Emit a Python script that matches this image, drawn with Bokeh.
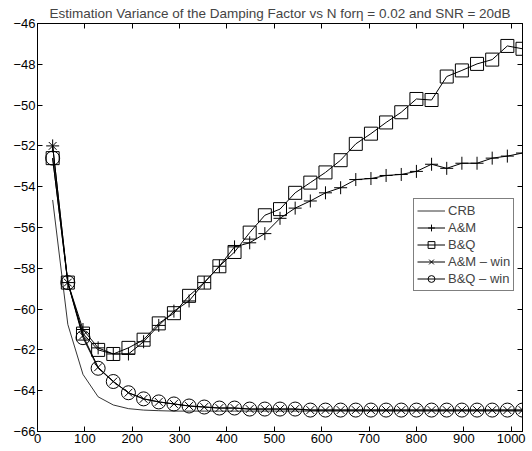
from bokeh.plotting import figure
from bokeh.models import LinearAxis, Range1d, FixedTicker, Legend, LegendItem, CustomJSTickFormatter
from bokeh.embed import file_html
from bokeh.resources import INLINE

N = list(range(32, 1025, 32))

crb = [-54.65, -60.75, -63.2, -64.3, -64.7, -64.88, -64.95, -64.98,
       -65.0, -65.0, -65.0, -65.0, -65.0, -65.0, -65.0, -65.0,
       -65.0, -65.0, -65.0, -65.0, -65.0, -65.0, -65.0, -65.0,
       -65.0, -65.0, -65.0, -65.0, -65.0, -65.0, -65.0, -65.0]

am = [-52.0, -58.7, -61.0, -61.9, -62.2, -62.2, -61.6, -60.8,
      -60.1, -59.6, -58.7, -57.9, -56.95, -56.75, -56.3, -55.55,
      -55.05, -54.7, -54.3, -54.05, -53.65, -53.6, -53.45, -53.4,
      -53.25, -52.9, -53.1, -52.85, -52.85, -52.6, -52.5, -52.35]

bq = [-52.6, -58.7, -61.2, -62.0, -62.2, -61.9, -61.5, -60.7,
      -60.2, -59.35, -58.7, -57.9, -57.2, -56.25, -55.4, -55.1,
      -54.3, -53.8, -53.3, -52.7, -51.9, -51.4, -50.85, -50.35,
      -49.7, -49.75, -48.6, -48.3, -47.98, -47.77, -47.1, -47.24]

am_win = [-52.0, -58.7, -61.3, -62.85, -63.55, -64.1, -64.4, -64.55,
          -64.65, -64.75, -64.8, -64.85, -64.85, -64.9, -64.9, -64.9,
          -64.9, -64.95, -64.95, -64.95, -64.95, -64.95, -64.95, -64.95,
          -64.95, -64.95, -64.95, -64.95, -64.95, -64.95, -64.95, -64.95]

bq_win = [-52.6, -58.7, -61.4, -62.9, -63.55, -64.1, -64.4, -64.55,
          -64.65, -64.75, -64.8, -64.85, -64.85, -64.9, -64.9, -64.9,
          -64.9, -64.95, -64.95, -64.95, -64.95, -64.95, -64.95, -64.95,
          -64.95, -64.95, -64.95, -64.95, -64.95, -64.95, -64.95, -64.95]

x_ticks = list(range(0, 1001, 100))
y_ticks = list(range(-66, -45, 2))

title = "Estimation Variance of the Damping Factor vs N for\u03b7 = 0.02 and SNR = 20dB"

FONT = "Liberation Sans"
FS = "13px"

p = figure(width=532, height=451, output_backend="svg", toolbar_location=None,
           x_range=Range1d(0, 1024), y_range=Range1d(-66, -46),
           title=title, min_border_left=37, min_border_right=10,
           min_border_top=4, min_border_bottom=20)

p.title.text_font = FONT
p.title.text_font_size = "13.5px"
p.title.text_font_style = "normal"
p.title.align = "center"
p.title.offset = 0
p.title.standoff = 6

p.xgrid.visible = False
p.ygrid.visible = False
p.outline_line_color = "black"
p.outline_line_width = 1
p.background_fill_color = "white"
p.border_fill_color = "white"

def style_axis(ax, ticks, labels=True):
    ax.ticker = FixedTicker(ticks=ticks)
    ax.major_tick_in = 5
    ax.major_tick_out = 0
    ax.minor_tick_in = 0
    ax.minor_tick_out = 0
    ax.axis_line_color = "black"
    ax.major_tick_line_color = "black"
    ax.major_label_text_font = FONT
    ax.major_label_text_font_size = FS
    ax.major_label_text_color = "black"
    ax.major_label_standoff = 2 if labels else 0
    if not labels:
        ax.formatter = CustomJSTickFormatter(code="return ''")

style_axis(p.xaxis[0], x_ticks)
style_axis(p.yaxis[0], y_ticks)

top = LinearAxis()
style_axis(top, x_ticks, labels=False)
p.add_layout(top, "above")
right = LinearAxis()
style_axis(right, y_ticks, labels=False)
p.add_layout(right, "right")

lw = 1.0
r_crb = p.line(N, crb, line_color="black", line_width=0.8)

l_am = p.line(N, am, line_color="black", line_width=lw)
s_am = p.scatter(N, am, marker="cross", size=13, line_color="black", fill_color=None, line_width=1)

l_bq = p.line(N, bq, line_color="black", line_width=lw)
s_bq = p.scatter(N, bq, marker="square", size=13, line_color="black", fill_color=None, line_width=1)

l_amw = p.line(N, am_win, line_color="black", line_width=lw)
s_amw = p.scatter(N, am_win, marker="x", size=11, line_color="black", fill_color=None, line_width=1)

l_bqw = p.line(N, bq_win, line_color="black", line_width=lw)
s_bqw = p.scatter(N, bq_win, marker="circle", size=14, line_color="black", fill_color=None, line_width=1)

legend = Legend(items=[
    LegendItem(label="CRB", renderers=[r_crb]),
    LegendItem(label="A&M", renderers=[l_am, s_am]),
    LegendItem(label="B&Q", renderers=[l_bq, s_bq]),
    LegendItem(label="A&M \u2013 win", renderers=[l_amw, s_amw]),
    LegendItem(label="B&Q \u2013 win", renderers=[l_bqw, s_bqw]),
], location=(376, 140))
legend.label_text_font = FONT
legend.label_text_font_size = FS
legend.label_standoff = 3
legend.glyph_width = 28
legend.glyph_height = 17
legend.label_height = 17
legend.spacing = 0
legend.padding = 3
legend.margin = 0
legend.border_line_color = "black"
legend.border_line_width = 1
legend.background_fill_color = "white"
legend.background_fill_alpha = 1
p.add_layout(legend, "center")

open("out.html", "w").write(file_html(p, INLINE))
